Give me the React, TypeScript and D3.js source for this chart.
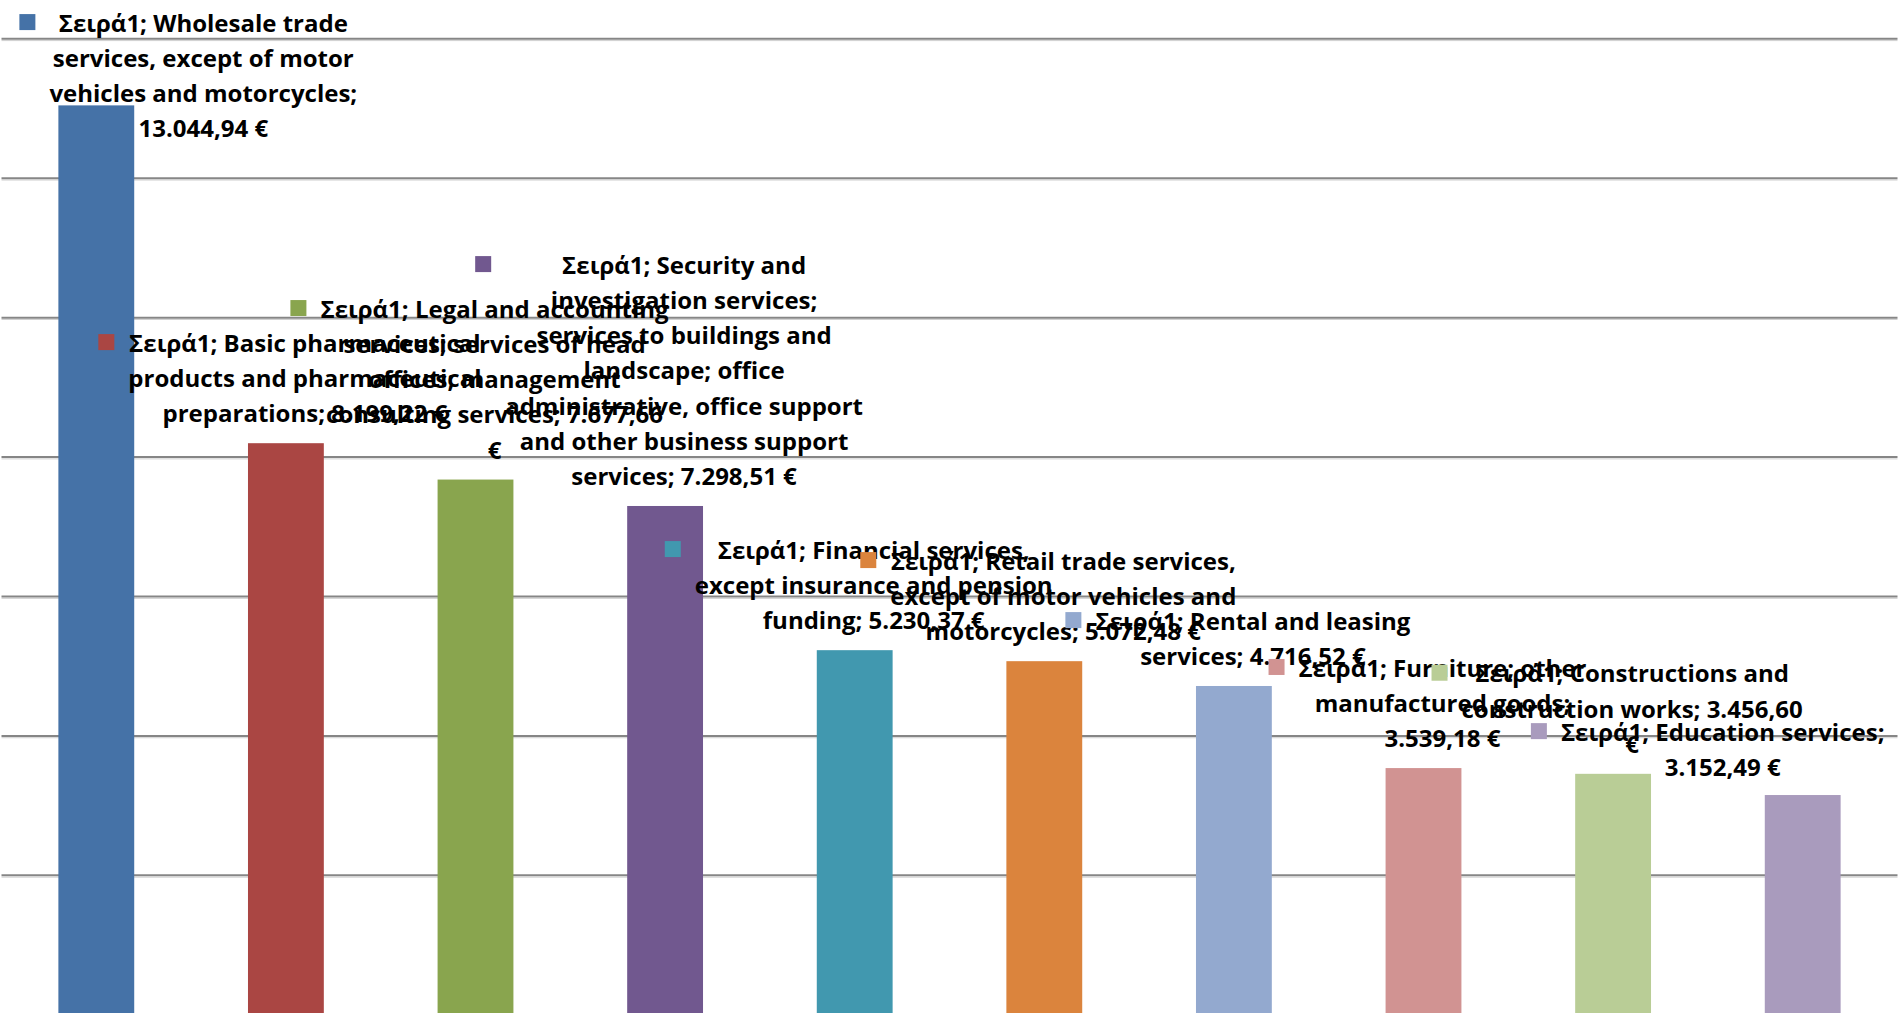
import { useEffect, useRef } from "react";
import * as d3 from "d3";

const seriesName = "Σειρά1";
const categories = [
  "Wholesale trade services, except of motor vehicles and motorcycles",
  "Basic pharmaceutical products and pharmaceutical preparations",
  "Legal and accounting services; services of head offices; management consulting services",
  "Security and investigation services; services to buildings and landscape; office administrative, office support and other business support services",
  "Financial services, except insurance and pension funding",
  "Retail trade services, except of motor vehicles and motorcycles",
  "Rental and leasing services",
  "Furniture; other manufactured goods",
  "Constructions and construction works",
  "Education services",
];
const values = [13044.94, 8199.22, 7677.66, 7298.51, 5230.37, 5072.48, 4716.52, 3539.18, 3456.6, 3152.49];
const colors = ["#4572A7", "#AA4643", "#89A54E", "#71588F", "#4198AF", "#DB843D", "#93A9CF", "#D19392", "#B9CD96", "#A99BBD"];
const gridTicks = [2000, 4000, 6000, 8000, 10000, 12000, 14000];

// how Excel wrapped each data label ("series; category; value")
const labelLines = [
  ["Σειρά1; Wholesale trade", "services, except of motor", "vehicles and motorcycles;", "13.044,94 €"],
  ["Σειρά1; Basic pharmaceutical", "products and pharmaceutical", "preparations; 8.199,22 €"],
  ["Σειρά1; Legal and accounting", "services; services of head", "offices; management", "consulting services; 7.677,66", "€"],
  [
    "Σειρά1; Security and",
    "investigation services;",
    "services to buildings and",
    "landscape; office",
    "administrative, office support",
    "and other business support",
    "services; 7.298,51 €",
  ],
  ["Σειρά1; Financial services,", "except insurance and pension", "funding; 5.230,37 €"],
  ["Σειρά1; Retail trade services,", "except of motor vehicles and", "motorcycles; 5.072,48 €"],
  ["Σειρά1; Rental and leasing", "services; 4.716,52 €"],
  ["Σειρά1; Furniture; other", "manufactured goods;", "3.539,18 €"],
  ["Σειρά1; Constructions and", "construction works; 3.456,60", "€"],
  ["Σειρά1; Education services;", "3.152,49 €"],
];
// labels the author dragged away from their default spot (px)
const labelShift = [
  [88, 53], [0, 0], [0, 0], [0, 0], [0, 0], [0, 0], [0, 0], [0, 0], [0, 0], [-99, 2],
];

const W = 1901;
const H = 1013;
const FONT = "'Open Sans', 'Noto Sans', sans-serif";
const LINE_H = 35.2;
const KEY = 16;

export default function App() {
  const ref = useRef<SVGSVGElement | null>(null);

  useEffect(() => {
    if (!ref.current) return;
    const svg = d3.select(ref.current);
    svg.selectAll("*").remove();

    const x = d3.scaleBand<number>().domain(d3.range(values.length)).range([1.5, 1897.5]).paddingInner(0.6).paddingOuter(0.3);
    const y = d3.scaleLinear().domain([0, 14000]).range([1014.8, 38.8]);

    svg.append("rect").attr("width", W).attr("height", H).attr("fill", "#fff");

    // gridlines with a faint shadow like Excel's
    const grid = svg.append("g");
    grid.selectAll("line.s").data(gridTicks).enter().append("line")
      .attr("x1", 1.5).attr("x2", 1897.5)
      .attr("y1", d => y(d) + 1.8).attr("y2", d => y(d) + 1.8)
      .attr("stroke", "#cfcfcf").attr("stroke-width", 1);
    grid.selectAll("line.g").data(gridTicks).enter().append("line")
      .attr("x1", 1.5).attr("x2", 1897.5)
      .attr("y1", d => y(d)).attr("y2", d => y(d))
      .attr("stroke", "#868686").attr("stroke-width", 2);

    svg.append("g").selectAll("rect").data(values).enter().append("rect")
      .attr("x", (_d, i) => x(i)!)
      .attr("width", x.bandwidth())
      .attr("y", d => y(d))
      .attr("height", d => y(0) - y(d))
      .attr("fill", (_d, i) => colors[i]);

    // data labels: centred lines, legend key left of the text block
    const labels = svg.append("g");
    values.forEach((v, i) => {
      const lines = labelLines[i];
      const cx = x(i)! + x.bandwidth() / 2 + 19 + labelShift[i][0];
      const lastBase = y(v) - 21 + labelShift[i][1];
      const firstBase = lastBase - (lines.length - 1) * LINE_H;
      const g = labels.append("g").attr("class", "label").attr("data-cat", categories[i]).attr("data-series", seriesName);
      const key = g.append("rect");
      const t = g.append("text")
        .attr("font-family", FONT)
        .attr("font-weight", "bold")
        .attr("font-size", 24)
        .attr("fill", "#000")
        .attr("text-anchor", "middle");
      let maxW = 0;
      lines.forEach((ln, k) => {
        const ts = t.append("tspan").attr("x", cx).attr("y", firstBase + k * LINE_H).text(ln);
        maxW = Math.max(maxW, (ts.node() as SVGTSpanElement).getComputedTextLength());
      });
      key
        .attr("x", cx - maxW / 2 - 14 - KEY)
        .attr("y", firstBase - 9.7 - KEY / 2)
        .attr("width", KEY)
        .attr("height", KEY)
        .attr("fill", colors[i]);
      g.raise();
    });
  }, []);

  return (
    <svg ref={ref} width={W} height={H} style={{ position: "fixed", left: 0, top: 0 }} />
  );
}
